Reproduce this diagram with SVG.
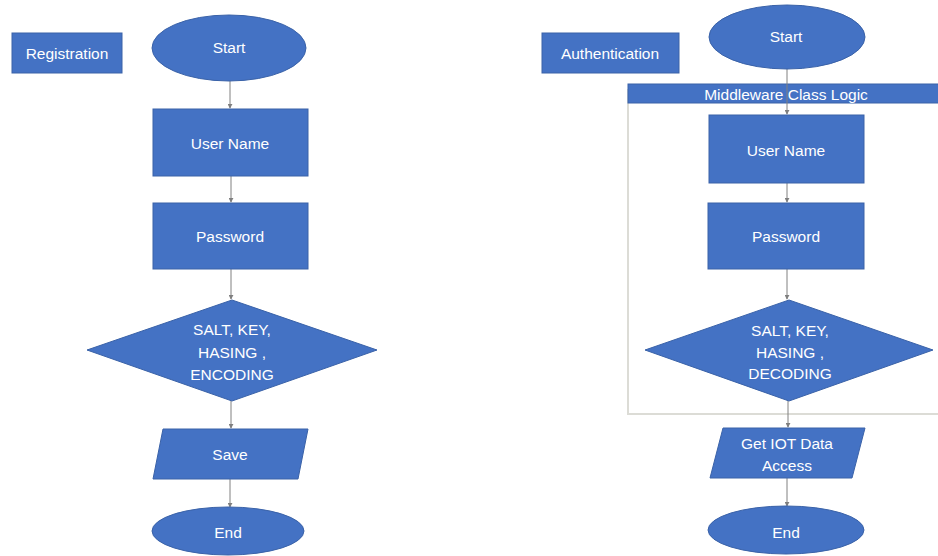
<svg xmlns="http://www.w3.org/2000/svg" width="938" height="556" viewBox="0 0 938 556">
<defs>
<marker id="arr" viewBox="0 0 6 6" refX="5" refY="3" markerWidth="5" markerHeight="5" orient="auto" markerUnits="userSpaceOnUse">
<path d="M0,0 L6,3 L0,6 z" fill="#7f7f7f"/>
</marker>
</defs>
<style>
.shape{fill:#4472c4;stroke:#3a62a8;stroke-width:1}
.t{fill:#ffffff;font-family:"Liberation Sans",Arial,sans-serif;font-size:15.5px;text-anchor:middle;dominant-baseline:central}
.conn{stroke:#808080;stroke-width:1;fill:none;marker-end:url(#arr)}
.frame{fill:none;stroke:#dcdcd6;stroke-width:2}
</style>
<rect width="938" height="556" fill="#ffffff"/>

<g id="middleware-frame">
<rect class="frame" x="628" y="90" width="316" height="324"/>
<rect class="shape" x="628" y="84" width="312" height="19"/>
<text class="t" x="786" y="94">Middleware Class Logic</text>
</g>

<g id="connectors">
<line class="conn" x1="230" y1="81" x2="230" y2="108"/>
<line class="conn" x1="231" y1="176" x2="231" y2="202"/>
<line class="conn" x1="231" y1="269" x2="231" y2="299"/>
<line class="conn" x1="231" y1="401" x2="231" y2="428"/>
<line class="conn" x1="230" y1="479" x2="230" y2="507"/>
<line class="conn" x1="787" y1="68" x2="787" y2="114"/>
<line class="conn" x1="787" y1="183" x2="787" y2="202"/>
<line class="conn" x1="787" y1="269" x2="787" y2="299"/>
<line class="conn" x1="788" y1="401" x2="788" y2="427"/>
<line class="conn" x1="787" y1="478" x2="787" y2="506"/>
</g>

<g id="registration">
<rect class="shape" x="12" y="33" width="110" height="40"/>
<text class="t" x="67" y="53">Registration</text>
</g>
<g id="start-left">
<ellipse class="shape" cx="229" cy="48" rx="77" ry="33"/>
<text class="t" x="229" y="47">Start</text>
</g>
<g id="username-left">
<rect class="shape" x="153" y="109" width="155" height="67"/>
<text class="t" x="230" y="143">User Name</text>
</g>
<g id="password-left">
<rect class="shape" x="153" y="203" width="155" height="66"/>
<text class="t" x="230" y="236">Password</text>
</g>
<g id="hash-left">
<polygon class="shape" points="232,300 377,350 232,401 87,350"/>
<text class="t" x="232" y="329">SALT, KEY,</text>
<text class="t" x="232" y="352">HASING ,</text>
<text class="t" x="232" y="374">ENCODING</text>
</g>
<g id="save">
<polygon class="shape" points="163,429 308,429 298,479 153,479"/>
<text class="t" x="230" y="454">Save</text>
</g>
<g id="end-left">
<ellipse class="shape" cx="228" cy="531" rx="76" ry="24"/>
<text class="t" x="228" y="532">End</text>
</g>

<g id="authentication">
<rect class="shape" x="542" y="33" width="137" height="40"/>
<text class="t" x="610" y="53">Authentication</text>
</g>
<g id="start-right">
<ellipse class="shape" cx="787" cy="37" rx="78" ry="32"/>
<text class="t" x="786" y="36">Start</text>
</g>
<g id="username-right">
<rect class="shape" x="709" y="115" width="155" height="68"/>
<text class="t" x="786" y="150">User Name</text>
</g>
<g id="password-right">
<rect class="shape" x="708" y="203" width="156" height="66"/>
<text class="t" x="786" y="236">Password</text>
</g>
<g id="hash-right">
<polygon class="shape" points="789,300 933,350 789,401 645,350"/>
<text class="t" x="790" y="330">SALT, KEY,</text>
<text class="t" x="790" y="352">HASING ,</text>
<text class="t" x="790" y="373">DECODING</text>
</g>
<g id="iot-access">
<polygon class="shape" points="723,428 865,428 852,478 710,478"/>
<text class="t" x="787" y="443">Get IOT Data</text>
<text class="t" x="787" y="465">Access</text>
</g>
<g id="end-right">
<ellipse class="shape" cx="786" cy="530" rx="78" ry="24"/>
<text class="t" x="786" y="532">End</text>
</g>
</svg>
